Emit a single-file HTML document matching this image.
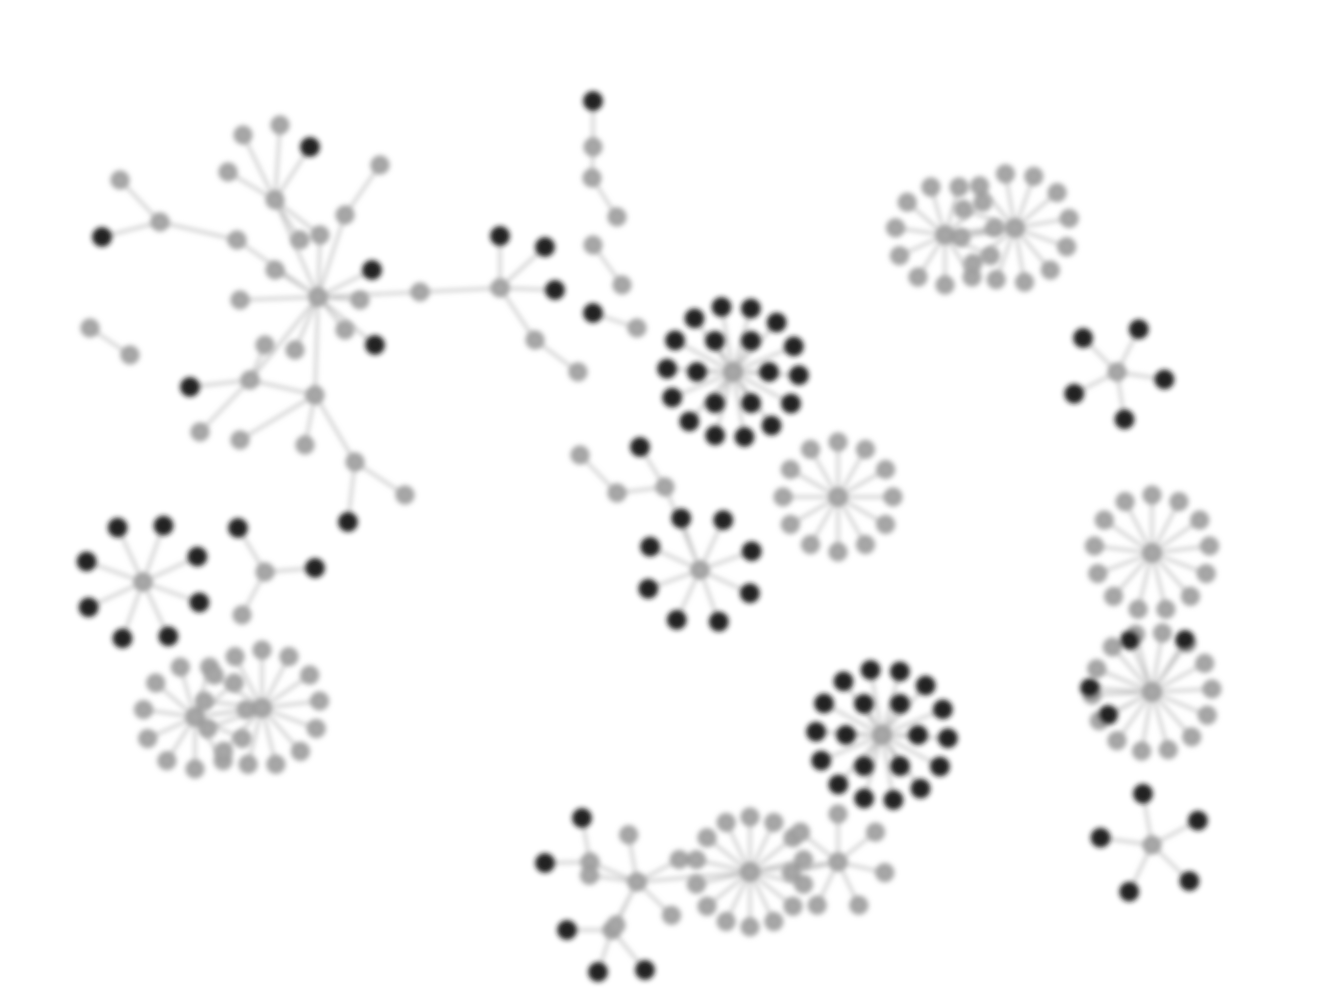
<!DOCTYPE html>
<html><head><meta charset="utf-8"><style>
html,body{margin:0;padding:0;background:#fff;}
svg{display:block;}
</style></head><body>
<svg id="chart" width="1344" height="1008" viewBox="0 0 1344 1008" xmlns="http://www.w3.org/2000/svg">
<defs><filter id="blur" x="-5%" y="-5%" width="110%" height="110%"><feGaussianBlur stdDeviation="2.6"/></filter></defs>
<g id="edges" filter="url(#blur)"></g>
<g id="nodes" filter="url(#blur)"></g>
</svg>
<script>
// explicit nodes
const nodeXs = [318,275,250,315,500,420,160,120,102,237,380,345,90,130,372,375,345,360,320,240,275,295,265,190,200,240,305,355,348,405,500,545,555,535,578,243,280,310,228,300,
593,593,592,617,593,622,593,637,580,617,665,640,265,238,315,242,590,582,545,612,567,598,645,637];
const nodeYs = [297,200,380,395,288,292,222,180,237,240,165,215,328,355,270,345,330,300,235,300,270,350,345,387,432,440,445,462,522,495,236,247,290,340,372,135,125,147,172,240,
101,147,178,217,245,285,313,328,455,493,487,447,572,528,568,615,862,818,863,930,930,972,970,882];
const nodeTypes = ['g','g','g','g','g','g','g','g','d','g','g','g','g','g','d','d','g','g','g','g','g','g','g','d','g','g','g','g','d','g','d','d','d','g','g','g','g','d','g','g',
'd','g','g','g','g','g','d','g','g','g','g','d','g','d','d','g','g','d','d','g','d','d','d','g'];
const edgeFrom = [0,0,5,6,6,6,9,10,11,12,0,0,0,0,0,0,0,0,2,2,2,2,3,3,3,3,27,27,27,4,4,4,4,33,1,1,1,1,1,40,41,42,44,46,48,49,50,52,52,52,56,56,59,59,59,56,63,1];
const edgeTo   = [1,5,4,7,8,9,0,11,0,13,14,15,16,17,18,19,20,21,0,22,23,24,0,2,25,26,3,28,29,30,31,32,33,34,35,36,37,38,39,41,42,43,45,47,49,50,51,53,54,55,57,58,60,61,62,63,59,18];
// star clusters
const starX     = [700,838,945,1015,1117,1152,1152,1152,143,195,262,637,750,838];
const starY     = [570,497,235,228,372,553,692,845,582,717,708,882,872,862];
const starCount = [8,12,11,12,5,13,14,5,8,11,13,5,14,7];
const starR     = [55,55,50,55,48,58,60,52,60,52,58,48,55,48];
const starType  = ['d','g','g','g','d','g','g','d','d','g','g','g','g','g'];
const starStart = [-110,-90,90,-100,-135,-90,-80,-100,-70,90,-90,-100,-90,-90];
const starLinks = [[2,3],[9,10],[11,12],[12,13]];
// ring clusters
const ringX = [733,882];
const ringY = [372,735];
const ringInner = [6,6];
const ringOuter = [14,14];
const extraDark = [[1130,640],[1090,688],[1108,715],[1185,640]];
</script>
<script>
const NS='http://www.w3.org/2000/svg';
const E=document.getElementById('edges'),N=document.getElementById('nodes');
const nodes=[],edges=[];
const base=nodeXs.map((x,i)=>({x:x,y:nodeYs[i],t:nodeTypes[i]}));
base.forEach(p=>nodes.push(p));
edgeFrom.forEach((f,i)=>edges.push([base[f],base[edgeTo[i]]]));
const hubs=starX.map((x,i)=>({x:x,y:starY[i],t:'g'}));
edges.push([base[50],hubs[0]]);
hubs.forEach((c,i)=>{nodes.push(c);const n=starCount[i];
 for(let k=0;k<n;k++){const a=(starStart[i]+360*k/n)*Math.PI/180;
  const p={x:c.x+starR[i]*Math.cos(a),y:c.y+starR[i]*Math.sin(a),t:starType[i]};
  nodes.push(p);edges.push([c,p]);}});
starLinks.forEach(l=>edges.push([hubs[l[0]],hubs[l[1]]]));
ringX.forEach((cx,i)=>{const c={x:cx,y:ringY[i],t:'g'};nodes.push(c);
 for(let k=0;k<ringInner[i];k++){const a=(360*k/ringInner[i]-60)*Math.PI/180;const p={x:cx+36*Math.cos(a),y:ringY[i]+36*Math.sin(a),t:'d'};nodes.push(p);edges.push([c,p]);}
 for(let k=0;k<ringOuter[i];k++){const a=(360*k/ringOuter[i]-100)*Math.PI/180;const p={x:cx+66*Math.cos(a),y:ringY[i]+66*Math.sin(a),t:'d'};nodes.push(p);edges.push([c,p]);}});
extraDark.forEach(d=>{const p={x:d[0],y:d[1],t:'d'};nodes.push(p);edges.push([hubs[6],p]);});
edges.forEach(([a,b])=>{const l=document.createElementNS(NS,'line');
 l.setAttribute('x1',a.x);l.setAttribute('y1',a.y);l.setAttribute('x2',b.x);l.setAttribute('y2',b.y);
 l.setAttribute('stroke','#b8b8b8');l.setAttribute('stroke-width','2.2');
 
 
 E.appendChild(l);});
nodes.forEach(p=>{const c=document.createElementNS(NS,'circle');
 c.setAttribute('cx',p.x);c.setAttribute('cy',p.y);c.setAttribute('r',p.t==='d'?9:8.5);
 c.setAttribute('fill',p.t==='d'?'#222':'#a6a6a6');
 c.setAttribute('stroke',p.t==='d'?'#111':'#8a8a8a');c.setAttribute('stroke-width','1.5');
 
 
 N.appendChild(c);});
</script>
</body></html>
